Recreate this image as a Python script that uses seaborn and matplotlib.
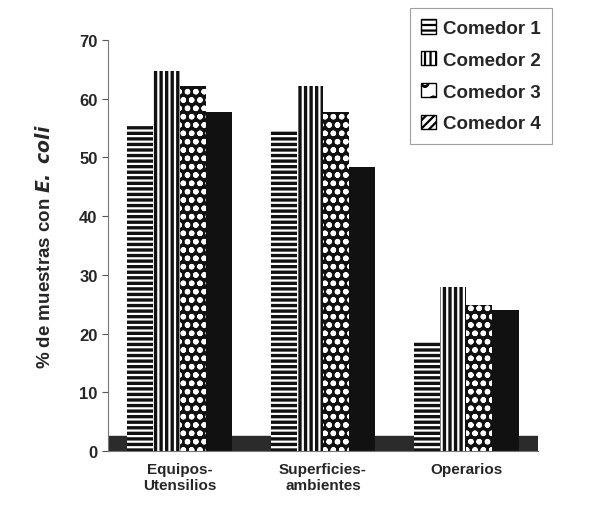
import matplotlib
matplotlib.use("Agg")
import matplotlib.pyplot as plt
import pandas as pd
import seaborn as sns
from matplotlib.patches import Patch

# datos
categorias = ["Equipos-\nUtensilios", "Superficies-\nambientes", "Operarios"]
comedores = ["Comedor 1", "Comedor 2", "Comedor 3", "Comedor 4"]
comedor1 = [55.4, 54.7, 18.7]
comedor2 = [64.7, 62.2, 27.9]
comedor3 = [62.2, 57.7, 24.9]
comedor4 = [57.7, 48.4, 24.0]
yticks = [0, 10, 20, 30, 40, 50, 60, 70]

filas = []
for nombre, vals in zip(comedores, [comedor1, comedor2, comedor3, comedor4]):
    for cat, v in zip(categorias, vals):
        filas.append([cat, nombre, v])
df = pd.DataFrame(filas, columns=["Lugar", "Comedor", "Porcentaje"])

sns.set_style("white")
plt.rcParams["font.family"] = ["Liberation Sans", "DejaVu Sans"]
plt.rcParams["hatch.linewidth"] = 1.6

fig = plt.figure(figsize=(5.95, 5.06), dpi=100)
ax = fig.add_axes([0.1815, 0.1067, 0.7225, 0.8123])

# piso oscuro del grafico
ax.axhspan(0, 2.6, color="#2b2b2b", zorder=0)

sns.barplot(data=df, x="Lugar", y="Porcentaje", hue="Comedor", order=categorias,
            hue_order=comedores, palette=["#111111"] * 4, width=0.73, gap=0,
            saturation=1, ax=ax, legend=False, zorder=2)

hatches = ["---", "|||", "oo", ""]
for i, cont in enumerate(ax.containers):
    for p in cont:
        p.set_hatch(hatches[i])
        p.set_edgecolor("white")
        p.set_linewidth(0)
        if hasattr(p, "set_hatchcolor"):
            p.set_hatchcolor("white")

ax.set_xlim(-0.5, 2.5)
ax.set_ylim(0, 70)
ax.set_yticks(yticks)
ax.set_yticklabels([str(t) for t in yticks], fontsize=12, fontweight="bold")
ax.set_xticks(range(3))
ax.set_xticklabels(categorias, fontsize=11, fontweight="bold")
ax.set_xticks([0.5, 1.5, 2.5], minor=True)
ax.tick_params(axis="x", which="major", length=0, pad=8)
ax.tick_params(axis="x", which="minor", length=4, color="#555555")
ax.tick_params(axis="y", length=4, color="#555555", left=True)
ax.set_xlabel("")
ax.set_ylabel(r"% de muestras con $\bfit{E.\ coli}$", fontsize=13.5,
              fontweight="bold", labelpad=18)
sns.despine(ax=ax)
ax.spines["left"].set_color("#777777")
ax.spines["bottom"].set_color("#777777")

# leyenda con tramas
handles = []
for h, nombre in zip(["---", "|||", "o", "////"], comedores):
    handles.append(Patch(facecolor="white", edgecolor="black", hatch=h, label=nombre))
leg = fig.legend(handles=handles, loc="upper left", bbox_to_anchor=(0.689, 0.982),
                 frameon=True, fancybox=False, edgecolor="#888888",
                 prop={"weight": "bold", "size": 13.5}, handlelength=0.8,
                 handleheight=0.8, handletextpad=0.35, labelspacing=0.75,
                 borderpad=0.6, borderaxespad=0)
leg.get_frame().set_linewidth(0.8)

fig.savefig("out.png", dpi=100)
